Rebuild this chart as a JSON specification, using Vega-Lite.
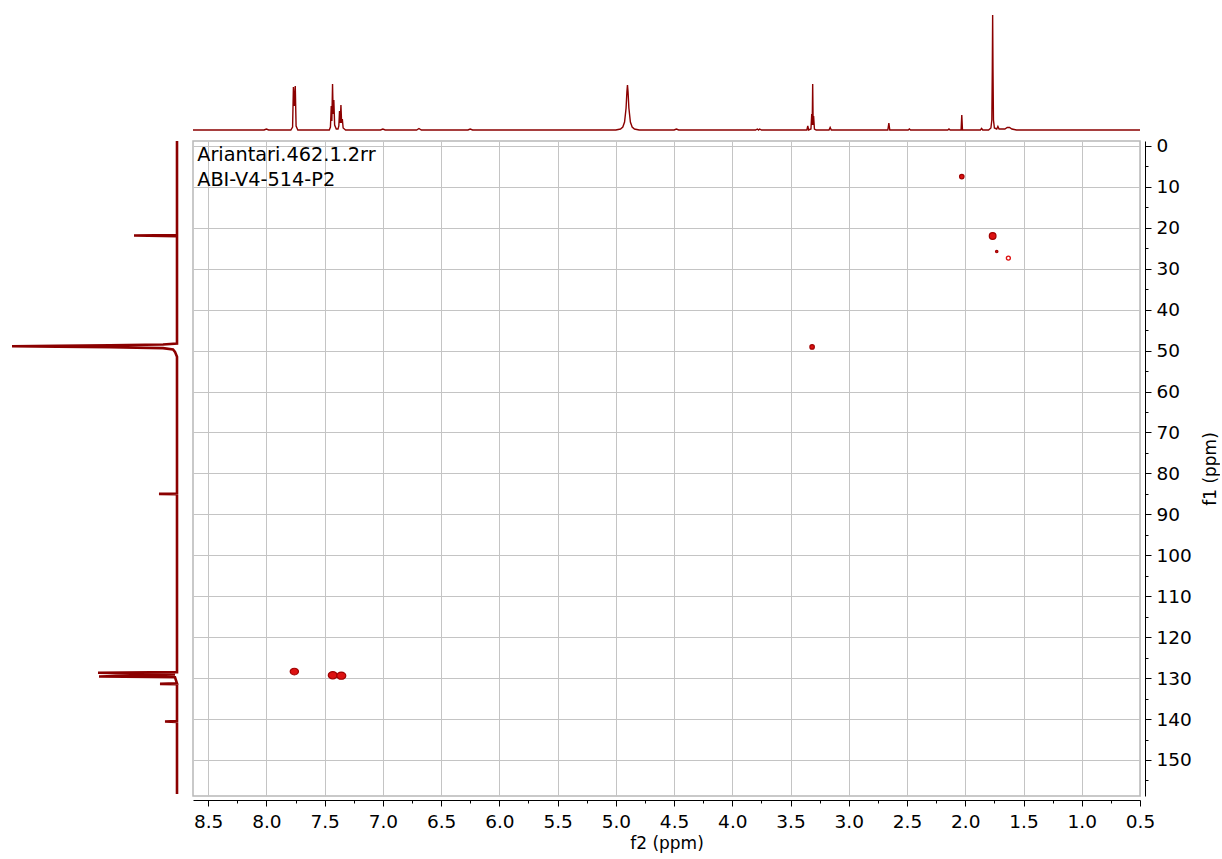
{
  "$schema": "https://vega.github.io/schema/vega-lite/v6.json",
  "padding": 0,
  "autosize": {"type": "pad"},
  "background": "white",
  "bounds": "flush",
  "columns": 2,
  "spacing": {"row": 5, "column": 13},
  "resolve": {"scale": {"x": "independent", "y": "independent", "size": "independent"}},
  "datasets": {
    "h1": [
      {"ppm": 8.63, "intensity": 0},
      {"ppm": 8.02, "intensity": 0},
      {"ppm": 8.0, "intensity": 1},
      {"ppm": 7.98, "intensity": 0},
      {"ppm": 7.79, "intensity": 0},
      {"ppm": 7.775, "intensity": 3},
      {"ppm": 7.768, "intensity": 43},
      {"ppm": 7.76, "intensity": 24},
      {"ppm": 7.752, "intensity": 44},
      {"ppm": 7.745, "intensity": 4},
      {"ppm": 7.73, "intensity": 0},
      {"ppm": 7.46, "intensity": 0},
      {"ppm": 7.45, "intensity": 3},
      {"ppm": 7.443, "intensity": 24},
      {"ppm": 7.438, "intensity": 9},
      {"ppm": 7.432, "intensity": 46},
      {"ppm": 7.427, "intensity": 16},
      {"ppm": 7.421, "intensity": 30},
      {"ppm": 7.414, "intensity": 5},
      {"ppm": 7.4, "intensity": 1},
      {"ppm": 7.385, "intensity": 1},
      {"ppm": 7.378, "intensity": 4},
      {"ppm": 7.372, "intensity": 19},
      {"ppm": 7.366, "intensity": 7},
      {"ppm": 7.36, "intensity": 25},
      {"ppm": 7.354, "intensity": 7},
      {"ppm": 7.348, "intensity": 11},
      {"ppm": 7.341, "intensity": 2},
      {"ppm": 7.32, "intensity": 0},
      {"ppm": 7.02, "intensity": 0},
      {"ppm": 7.0, "intensity": 1},
      {"ppm": 6.98, "intensity": 0},
      {"ppm": 6.71, "intensity": 0},
      {"ppm": 6.69, "intensity": 1.5},
      {"ppm": 6.67, "intensity": 0},
      {"ppm": 6.27, "intensity": 0},
      {"ppm": 6.25, "intensity": 1},
      {"ppm": 6.23, "intensity": 0},
      {"ppm": 5.0, "intensity": 0},
      {"ppm": 4.96, "intensity": 1},
      {"ppm": 4.94, "intensity": 3},
      {"ppm": 4.925, "intensity": 8},
      {"ppm": 4.912, "intensity": 22},
      {"ppm": 4.905, "intensity": 38},
      {"ppm": 4.9, "intensity": 45},
      {"ppm": 4.895, "intensity": 38},
      {"ppm": 4.888, "intensity": 22},
      {"ppm": 4.875, "intensity": 8},
      {"ppm": 4.86, "intensity": 3},
      {"ppm": 4.84, "intensity": 1},
      {"ppm": 4.8, "intensity": 0},
      {"ppm": 4.5, "intensity": 0},
      {"ppm": 4.48, "intensity": 1},
      {"ppm": 4.46, "intensity": 0},
      {"ppm": 3.8, "intensity": 0},
      {"ppm": 3.785, "intensity": 1},
      {"ppm": 3.775, "intensity": 0},
      {"ppm": 3.765, "intensity": 1},
      {"ppm": 3.75, "intensity": 0},
      {"ppm": 3.36, "intensity": 0},
      {"ppm": 3.352, "intensity": 4},
      {"ppm": 3.345, "intensity": 0},
      {"ppm": 3.325, "intensity": 1},
      {"ppm": 3.318, "intensity": 16},
      {"ppm": 3.314, "intensity": 5},
      {"ppm": 3.31, "intensity": 46},
      {"ppm": 3.306, "intensity": 5},
      {"ppm": 3.302, "intensity": 14},
      {"ppm": 3.295, "intensity": 1},
      {"ppm": 3.28, "intensity": 0},
      {"ppm": 3.17, "intensity": 0},
      {"ppm": 3.16, "intensity": 2.5},
      {"ppm": 3.15, "intensity": 0},
      {"ppm": 2.665, "intensity": 0},
      {"ppm": 2.656, "intensity": 7},
      {"ppm": 2.648, "intensity": 0},
      {"ppm": 2.49, "intensity": 0},
      {"ppm": 2.48, "intensity": 1},
      {"ppm": 2.47, "intensity": 0},
      {"ppm": 2.15, "intensity": 0},
      {"ppm": 2.14, "intensity": 1},
      {"ppm": 2.13, "intensity": 0},
      {"ppm": 2.036, "intensity": 0},
      {"ppm": 2.03, "intensity": 15},
      {"ppm": 2.024, "intensity": 0},
      {"ppm": 1.87, "intensity": 0},
      {"ppm": 1.86, "intensity": 1.5},
      {"ppm": 1.85, "intensity": 0},
      {"ppm": 1.8, "intensity": 0},
      {"ppm": 1.78, "intensity": 2},
      {"ppm": 1.772, "intensity": 10},
      {"ppm": 1.768, "intensity": 60},
      {"ppm": 1.765, "intensity": 115},
      {"ppm": 1.762, "intensity": 60},
      {"ppm": 1.758, "intensity": 10},
      {"ppm": 1.75, "intensity": 2},
      {"ppm": 1.73, "intensity": 1},
      {"ppm": 1.72, "intensity": 3.5},
      {"ppm": 1.71, "intensity": 1},
      {"ppm": 1.66, "intensity": 1},
      {"ppm": 1.64, "intensity": 2.5},
      {"ppm": 1.62, "intensity": 2.5},
      {"ppm": 1.6, "intensity": 1},
      {"ppm": 1.56, "intensity": 0},
      {"ppm": 0.5, "intensity": 0}
    ],
    "c13": [
      {"ppm": -1.2, "intensity": 0},
      {"ppm": 21.75, "intensity": 0},
      {"ppm": 21.9, "intensity": 43},
      {"ppm": 22.05, "intensity": 0},
      {"ppm": 48.3, "intensity": 0},
      {"ppm": 48.5, "intensity": 14},
      {"ppm": 48.7, "intensity": 67},
      {"ppm": 48.85, "intensity": 120},
      {"ppm": 48.95, "intensity": 165},
      {"ppm": 49.05, "intensity": 120},
      {"ppm": 49.2, "intensity": 67},
      {"ppm": 49.4, "intensity": 14},
      {"ppm": 49.7, "intensity": 4},
      {"ppm": 50.3, "intensity": 2},
      {"ppm": 51.5, "intensity": 0},
      {"ppm": 84.9, "intensity": 0},
      {"ppm": 85.0, "intensity": 18},
      {"ppm": 85.1, "intensity": 0},
      {"ppm": 128.55, "intensity": 0},
      {"ppm": 128.7, "intensity": 79},
      {"ppm": 129.1, "intensity": 2},
      {"ppm": 129.6, "intensity": 78},
      {"ppm": 129.8, "intensity": 2},
      {"ppm": 131.3, "intensity": 0},
      {"ppm": 131.4, "intensity": 17},
      {"ppm": 131.5, "intensity": 0},
      {"ppm": 140.5, "intensity": 0},
      {"ppm": 140.6, "intensity": 12},
      {"ppm": 140.7, "intensity": 0},
      {"ppm": 158.3, "intensity": 0}
    ],
    "hsqc": [
      {"f2": 7.76, "f1": 128.4, "volume": 44, "phase": "pos"},
      {"f2": 7.43, "f1": 129.3, "volume": 52, "phase": "pos"},
      {"f2": 7.357, "f1": 129.4, "volume": 52, "phase": "pos"},
      {"f2": 3.315, "f1": 49.1, "volume": 20, "phase": "pos"},
      {"f2": 2.03, "f1": 7.5, "volume": 20, "phase": "pos"},
      {"f2": 1.765, "f1": 22.0, "volume": 45, "phase": "pos"},
      {"f2": 1.73, "f1": 25.8, "volume": 6, "phase": "pos"},
      {"f2": 1.63, "f1": 27.4, "volume": 16, "phase": "neg"}
    ],
    "labels": [
      {"f2": 8.594, "f1": 3.6, "text": "Ariantari.462.1.2rr"},
      {"f2": 8.594, "f1": 9.7, "text": "ABI-V4-514-P2"}
    ]
  },
  "concat": [
    {
      "width": 180,
      "height": 136,
      "data": {"values": [{"label": ""}]},
      "mark": {"type": "text"},
      "encoding": {"text": {"field": "label"}}
    },
    {
      "width": 947,
      "height": 136,
      "data": {"name": "h1"},
      "mark": {"type": "line", "color": "#8b0000", "strokeWidth": 1.4},
      "encoding": {
        "x": {"field": "ppm", "type": "quantitative",
              "scale": {"domain": [0.5, 8.63], "reverse": true, "nice": false, "zero": false}, "axis": null},
        "y": {"field": "intensity", "type": "quantitative",
              "scale": {"domain": [-6, 130], "nice": false, "zero": false}, "axis": null},
        "order": {"field": "ppm", "type": "quantitative"}
      }
    },
    {
      "width": 180,
      "height": 655,
      "data": {"name": "c13"},
      "mark": {"type": "line", "color": "#8b0000", "strokeWidth": 2.6},
      "encoding": {
        "x": {"field": "intensity", "type": "quantitative",
              "scale": {"domain": [-3, 177], "reverse": true, "nice": false, "zero": false}, "axis": null},
        "y": {"field": "ppm", "type": "quantitative",
              "scale": {"domain": [-1.2, 158.8], "reverse": true, "nice": false, "zero": false}, "axis": null},
        "order": {"field": "ppm", "type": "quantitative"}
      }
    },
    {
      "width": 947,
      "height": 655,
      "view": {"stroke": "#b8b8b8", "strokeWidth": 1.5},
      "encoding": {
        "x": {"field": "f2", "type": "quantitative",
              "scale": {"domain": [0.5, 8.63], "reverse": true, "nice": false, "zero": false},
              "axis": {
                "orient": "bottom",
                "title": "f2 (ppm)",
                "values": [8.5, 8.25, 8.0, 7.75, 7.5, 7.25, 7.0, 6.75, 6.5, 6.25, 6.0, 5.75, 5.5, 5.25, 5.0, 4.75, 4.5, 4.25, 4.0, 3.75, 3.5, 3.25, 3.0, 2.75, 2.5, 2.25, 2.0, 1.75, 1.5, 1.25, 1.0, 0.75, 0.5],
                "labelExpr": "datum.value % 0.5 === 0 ? format(datum.value, '.1f') : ''",
                "labelFlush": false,
                "labelOverlap": false,
                "offset": 4,
                "domainColor": "#000000",
                "tickColor": "#000000",
                "tickSize": {"condition": {"test": "datum.value % 0.5 !== 0", "value": 3}, "value": 6},
                "grid": true,
                "gridColor": "#c4c4c4",
                "gridOpacity": {"condition": {"test": "datum.value % 0.5 !== 0", "value": 0}, "value": 1},
                "labelFont": "DejaVu Sans",
                "labelFontSize": 18.5,
                "labelColor": "#000000",
                "labelPadding": 6,
                "titleFont": "DejaVu Sans",
                "titleFontSize": 17,
                "titleFontWeight": "normal",
                "titleColor": "#000000",
                "titlePadding": 5
              }},
        "y": {"field": "f1", "type": "quantitative",
              "scale": {"domain": [-1.2, 158.8], "reverse": true, "nice": false, "zero": false},
              "axis": {
                "orient": "right",
                "title": "f1 (ppm)",
                "values": [0, 5, 10, 15, 20, 25, 30, 35, 40, 45, 50, 55, 60, 65, 70, 75, 80, 85, 90, 95, 100, 105, 110, 115, 120, 125, 130, 135, 140, 145, 150, 155],
                "labelExpr": "datum.value % 10 === 0 ? format(datum.value, 'd') : ''",
                "labelOverlap": false,
                "labelFlush": false,
                "offset": 5,
                "domainColor": "#000000",
                "tickColor": "#000000",
                "tickSize": {"condition": {"test": "datum.value % 10 !== 0", "value": 3}, "value": 6},
                "grid": true,
                "gridColor": "#c4c4c4",
                "gridOpacity": {"condition": {"test": "datum.value % 10 !== 0", "value": 0}, "value": 1},
                "labelFont": "DejaVu Sans",
                "labelFontSize": 18.5,
                "labelColor": "#000000",
                "labelPadding": 5,
                "titleFont": "DejaVu Sans",
                "titleFontSize": 17,
                "titleFontWeight": "normal",
                "titleColor": "#000000",
                "titleAngle": 270,
                "titlePadding": 28
              }}
      },
      "layer": [
        {
          "data": {"name": "hsqc"},
          "transform": [{"filter": "datum.phase === 'pos' && datum.f2 > 7"}],
          "mark": {"type": "point", "shape": "M -1.25 0 A 1.25 1 0 1 0 1.25 0 A 1.25 1 0 1 0 -1.25 0 Z", "filled": true, "fill": "#dd1111", "stroke": "#a00000", "strokeWidth": 1.2, "opacity": 1},
          "encoding": {
            "size": {"field": "volume", "type": "quantitative", "scale": {"domain": [0, 60], "range": [0, 60]}, "legend": null}
          }
        },
        {
          "data": {"name": "hsqc"},
          "transform": [{"filter": "datum.phase === 'pos' && datum.f2 <= 7"}],
          "mark": {"type": "point", "shape": "circle", "filled": true, "fill": "#dd1111", "stroke": "#a00000", "strokeWidth": 1.2, "opacity": 1},
          "encoding": {
            "size": {"field": "volume", "type": "quantitative", "scale": {"domain": [0, 60], "range": [0, 60]}, "legend": null}
          }
        },
        {
          "data": {"name": "hsqc"},
          "transform": [{"filter": "datum.phase === 'neg'"}],
          "mark": {"type": "point", "shape": "circle", "filled": false, "stroke": "#dd1111", "strokeWidth": 1.3, "opacity": 1},
          "encoding": {
            "size": {"field": "volume", "type": "quantitative", "scale": {"domain": [0, 60], "range": [0, 60]}, "legend": null}
          }
        },
        {
          "data": {"name": "labels"},
          "mark": {"type": "text", "align": "left", "baseline": "alphabetic", "font": "DejaVu Sans", "fontSize": 19.3, "color": "#000000"},
          "encoding": {"text": {"field": "text"}}
        }
      ]
    }
  ],
  "config": {
    "view": {"stroke": null},
    "font": "DejaVu Sans"
  }
}
